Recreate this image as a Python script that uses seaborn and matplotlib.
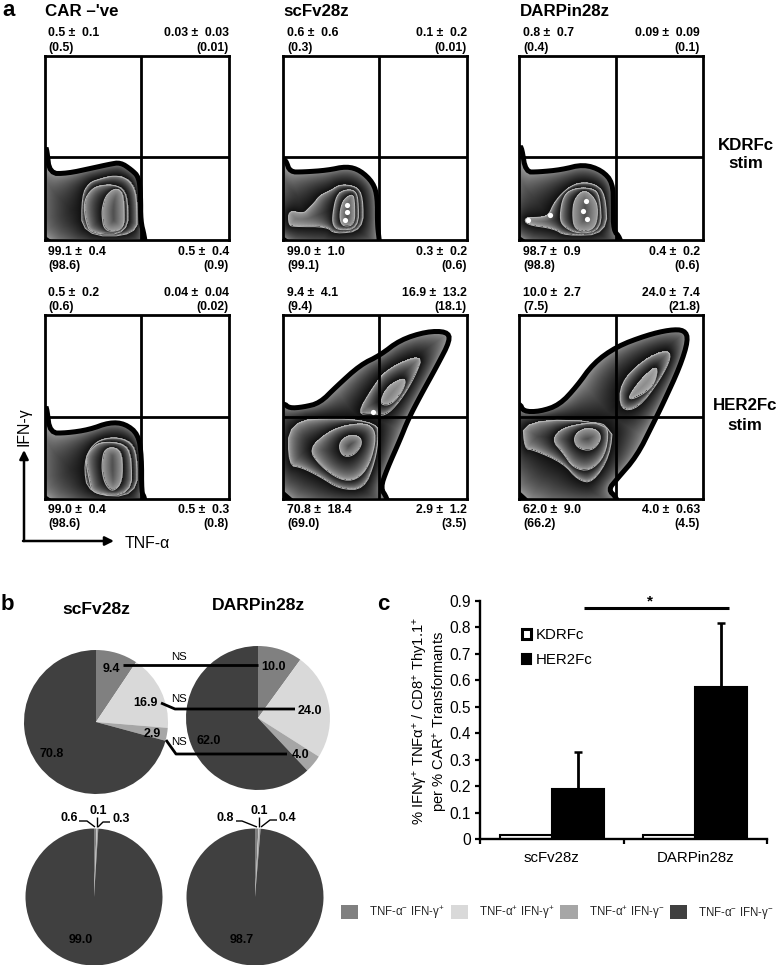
import numpy as np
import pandas as pd
import matplotlib
matplotlib.use("Agg")
import matplotlib.pyplot as plt
from matplotlib.path import Path
import seaborn as sns

sns.set_theme(style="white")
plt.rcParams['font.family'] = ['Liberation Sans', 'DejaVu Sans']
plt.rcParams['mathtext.fontset'] = 'custom'
plt.rcParams['mathtext.rm'] = 'Liberation Sans'
plt.rcParams['mathtext.default'] = 'rm'

W, H = 778, 965

# panel a: gated percentages, each row of a panel is TL, TR, BL, BR
KDR_STATS = [
    [("0.5 ±  0.1", "(0.5)"), ("0.03 ±  0.03", "(0.01)"), ("99.1 ±  0.4", "(98.6)"), ("0.5 ±  0.4", "(0.9)")],
    [("0.6 ±  0.6", "(0.3)"), ("0.1 ±  0.2", "(0.01)"), ("99.0 ±  1.0", "(99.1)"), ("0.3 ±  0.2", "(0.6)")],
    [("0.8 ±  0.7", "(0.4)"), ("0.09 ±  0.09", "(0.1)"), ("98.7 ±  0.9", "(98.8)"), ("0.4 ±  0.2", "(0.6)")],
]
HER2_STATS = [
    [("0.5 ±  0.2", "(0.6)"), ("0.04 ±  0.04", "(0.02)"), ("99.0 ±  0.4", "(98.6)"), ("0.5 ±  0.3", "(0.8)")],
    [("9.4 ±  4.1", "(9.4)"), ("16.9 ±  13.2", "(18.1)"), ("70.8 ±  18.4", "(69.0)"), ("2.9 ±  1.2", "(3.5)")],
    [("10.0 ±  2.7", "(7.5)"), ("24.0 ±  7.4", "(21.8)"), ("62.0 ±  9.0", "(66.2)"), ("4.0 ±  0.63", "(4.5)")],
]
COL_TITLES = ["CAR –'ve", "scFv28z", "DARPin28z"]

# contour outlines, TNF-a / IFN-g on a 0-100 display scale
NEG_KDR_L0 = [(1, 49), (2.5, 36), (12, 36), (26, 39), (35, 41), (41, 42), (47, 38), (51, 34), (52, 24), (52, 10), (54, 2), (55, -6), (-6, -6), (-6, 36), (0.5, 49)]
NEG_KDR_L1 = [(20, 24), (24, 31), (30, 33), (38, 35), (45, 33), (49, 27), (50, 18), (50, 2), (20, 2)]
NEG_KDR_L2 = [(21, 20), (24, 26), (28, 29), (36, 30), (42, 28), (45, 22), (45, 3), (25, 3), (22, 10)]
NEG_KDR_L3 = [(31, 17), (33, 24), (38, 28), (42, 26), (43, 18), (43, 6), (36, 4), (32, 6), (31, 12)]

SCFV_KDR_L0 = [(1.6, 43), (3.8, 36.8), (11, 36.8), (24, 37.7), (34.6, 39.9), (42, 37.7), (49, 31), (51.3, 23), (51.3, 8.5), (52, 2), (53, -6), (-6, -6), (-6, 36), (0.5, 43)]
SCFV_KDR_L1 = [(17, 20), (20, 24), (26.5, 27), (31, 30), (40, 29), (43.5, 23), (43.5, 5), (28, 3), (24, 7), (6, 7), (3, 8), (3, 16), (11, 14), (14, 17)]
SCFV_KDR_L2 = [(27, 14), (29, 24), (33, 27), (39, 27), (41, 22), (41, 6), (30, 5), (27, 8)]
SCFV_KDR_L3 = [(31, 16), (33, 22), (38, 25), (39, 20), (39, 8), (33, 7), (31, 10)]
SCFV_KDR_SPOTS = [(34.6, 15), (33.7, 10.4), (35, 19)]

DARP_KDR_L0 = [(1.5, 50), (3.6, 36.8), (10.5, 36.8), (23, 38), (35, 41), (45, 37.7), (51, 31), (51.3, 17.7), (51.3, 5), (55, 1), (56, -6), (-6, -6), (-6, 36), (0.5, 50)]
DARP_KDR_L1 = [(16, 13), (19, 20), (25, 27), (32, 31), (41, 30.5), (47, 25), (48, 3), (25, 2), (19, 6), (4, 8), (3, 12), (11, 12)]
DARP_KDR_L2 = [(22, 12), (24, 24), (30, 28), (40, 28), (44, 24), (45, 5), (32, 3), (24, 7)]
DARP_KDR_L3 = [(29, 14), (30, 22), (35, 27), (40, 24), (43, 18), (42, 7), (36, 4), (30, 6)]
DARP_KDR_SPOTS = [(36.4, 21), (34.6, 15.4), (36.8, 11.4), (5, 10.8), (17, 13.2)]

NEG_HER_L0 = [(1, 49), (2.7, 35.7), (11.7, 35.7), (24, 37.5), (35, 41.5), (43.5, 40.8), (50.7, 35), (52.5, 23), (52.5, 3), (54, 1), (55, -6), (-6, -6), (-6, 36), (0.5, 49)]
NEG_HER_L1 = [(20.9, 19.4), (26, 30), (35, 33.5), (45, 32), (50, 25), (50, 1), (23.5, 2)]
NEG_HER_L2 = [(22, 21), (24, 26), (30, 31), (43, 30), (47, 23), (47, 2), (26, 2), (24, 10)]
NEG_HER_L3 = [(31, 21), (32.5, 27), (38, 28), (42, 24), (42, 9), (37, 3.5), (33, 7), (31, 14)]

SCFV_HER_L0 = [(0.5, 52), (3.4, 49.2), (11, 49.8), (20, 52), (29, 61), (42, 72.8), (52.7, 78), (63.6, 86.4), (78, 91), (89, 91), (91, 86.4),
               (83.5, 71.9), (74.5, 55.6), (68, 43), (63.6, 32), (56.4, 15.7), (53, 5.7), (56.4, 0.5), (58, -6), (-6, -6), (-6, 50)]
SCFV_HER_L1_LOW = [(3, 42), (30, 44), (51, 41), (52, 34), (50, 20), (44, 5), (31, 5), (20, 12), (10, 17), (3, 18)]
SCFV_HER_L1_UP = [(40, 45.6), (49, 61), (57, 71), (76.3, 78.8), (71.8, 66.5), (63.6, 52.9), (55.4, 44.7), (49, 46.5)]
SCFV_HER_L2_LOW = [(14, 27), (24, 36), (34, 40), (47, 41), (51, 34), (47, 18), (40, 10), (31, 10), (20, 18)]
SCFV_HER_L2_UP = [(54.5, 57.4), (59, 62.8), (67, 66), (65.4, 59), (59, 51), (52.7, 51)]
SCFV_HER_L3 = [(30, 30), (35.5, 34.7), (42, 33.8), (43, 29), (38, 23), (32, 23)]
SCFV_HER_SPOTS = [(48.7, 47)]

DARP_HER_L0 = [(0.5, 52), (2.3, 47.4), (11.4, 47.4), (22, 51), (31.3, 61), (40.4, 73.7), (53, 82.8), (69.4, 89), (82, 92), (90, 91.8), (92, 86.4),
               (87.5, 71.9), (78.4, 52), (73, 41), (64, 23), (53, 10.3), (48.5, 4.8), (53, 0.5), (55, -6), (-6, -6), (-6, 50)]
DARP_HER_L1_LOW = [(2, 43), (51.2, 42), (49.4, 23), (40, 8.5), (32, 10), (24, 19.4), (7.7, 26.6), (3, 27)]
DARP_HER_L1_UP = [(54.9, 62.8), (67.5, 75.5), (80, 81), (83, 77.3), (76.6, 64.6), (64.8, 49), (55, 48)]
DARP_HER_L2_LOW = [(17.7, 32), (24, 39), (44, 42), (49, 37.5), (46.7, 23), (38.5, 14.8), (29.5, 16.6), (24, 24.8)]
DARP_HER_L2_UP = [(59.4, 55.6), (67.5, 66.5), (75.7, 72.8), (73.9, 62.8), (68.4, 57.4), (61, 53.8)]
DARP_HER_L3 = [(29.5, 33.8), (35, 38.4), (43, 37.5), (44.9, 32), (39.5, 25.7), (31.3, 27.5)]

# panel b
PIE_COLORS = ["#808080", "#d9d9d9", "#a6a6a6", "#404040"]
PIE_SCFV_HER = [9.4, 16.9, 2.9, 70.8]
PIE_DARP_HER = [10.0, 24.0, 4.0, 62.0]
PIE_SCFV_KDR = [0.6, 0.1, 0.3, 99.0]
PIE_DARP_KDR = [0.8, 0.1, 0.4, 98.7]
PIE_LEGEND = ["TNF-α$^{-}$ IFN-γ$^{+}$", "TNF-α$^{+}$ IFN-γ$^{+}$", "TNF-α$^{+}$ IFN-γ$^{-}$", "TNF-α$^{-}$ IFN-γ$^{-}$"]

# panel c
CONSTRUCTS = ["scFv28z", "DARPin28z"]
KDR_MEANS = [0.015, 0.015]
HER2_MEANS = [0.19, 0.575]
HER2_ERR = [0.14, 0.24]
Y_TICKS = [0, 0.1, 0.2, 0.3, 0.4, 0.5, 0.6, 0.7, 0.8, 0.9]
Y_TICK_LABELS = ["0", "0.1", "0.2", "0.3", "0.4", "0.5", "0.6", "0.7", "0.8", "0.9"]


def axes_px(fig, left, top, right, bottom, **kw):
    return fig.add_axes([left / W, 1 - bottom / H, (right - left) / W, (bottom - top) / H], **kw)


def smooth(poly, rounds=2):
    pts = np.array(poly, dtype=float)
    for _ in range(rounds):
        nxt = np.roll(pts, -1, axis=0)
        pts = np.column_stack([0.75 * pts + 0.25 * nxt, 0.25 * pts + 0.75 * nxt]).reshape(-1, 2)
    return pts


def dense(polys):
    out = []
    for p in polys:
        closed = np.vstack([p, p[:1]])
        seg = np.r_[0, np.cumsum(np.hypot(*np.diff(closed, axis=0).T))]
        s = np.arange(0, seg[-1], 0.8)
        out.append(np.column_stack([np.interp(s, seg, closed[:, 0]), np.interp(s, seg, closed[:, 1])]))
    return np.vstack(out)


def min_dist(grid, verts):
    res = np.full(len(grid), np.inf)
    for i in range(0, len(grid), 4000):
        chunk = grid[i:i + 4000]
        d = np.hypot(chunk[:, None, 0] - verts[None, :, 0], chunk[:, None, 1] - verts[None, :, 1])
        res[i:i + 4000] = d.min(axis=1)
    return res


def draw_flow(ax, levels, gate_x, gate_y, spots=()):
    levels = [[smooth(p) for p in lev] for lev in levels]
    n = 184
    xs = (np.arange(n) + 0.5) * 100 / n
    gx, gy = np.meshgrid(xs, xs)
    grid = np.column_stack([gx.ravel(), gy.ravel()])
    count = np.zeros(len(grid), dtype=int)
    for lev in levels:
        inside = np.zeros(len(grid), dtype=bool)
        for p in lev:
            inside |= Path(p).contains_points(grid)
        count += inside
    dists = [min_dist(grid, dense(lev)) for lev in levels]
    img = np.full(len(grid), np.nan)
    for c in range(1, len(levels) + 1):
        m = count == c
        if c < len(levels):
            t = dists[c - 1][m] / (dists[c - 1][m] + dists[c][m] + 1e-6)
            img[m] = 0.72 - 0.66 * t ** 0.55
        else:
            d = dists[c - 1][m]
            t = d / (d.max() + 1e-6)
            img[m] = 0.62 - 0.3 * t
    ax.imshow(np.ma.masked_invalid(img.reshape(n, n)), origin='lower', extent=(0, 100, 0, 100),
              cmap='gray', vmin=0, vmax=1, aspect='auto', interpolation='bilinear')
    for lev in levels[1:]:
        for p in lev:
            ax.fill(p[:, 0], p[:, 1], fill=False, ec='#b4b4b4', lw=0.7)
    for p in levels[0]:
        ax.fill(p[:, 0], p[:, 1], fill=False, ec='black', lw=3.6)
    if len(spots):
        sns.scatterplot(x=[s[0] for s in spots], y=[s[1] for s in spots], color='white', s=14, linewidth=0, ax=ax, legend=False)
    ax.axvline(gate_x, color='black', lw=2.0)
    ax.axhline(gate_y, color='black', lw=2.0)
    ax.set(xlim=(0, 100), ylim=(0, 100), xticks=[], yticks=[])
    for sp in ax.spines.values():
        sp.set_visible(True)
        sp.set_color('black')
        sp.set_linewidth(2.0)


fig = plt.figure(figsize=(W / 100, H / 100), dpi=100, facecolor='white')

# panel a
col_left = [45, 283, 519]
col_gate = [52.2, 52.2, 52.7]
row_tops = [56, 315]
row_gate = [44.8, 44.6]
flow_levels = [
    [[[NEG_KDR_L0], [NEG_KDR_L1], [NEG_KDR_L2], [NEG_KDR_L3]],
     [[SCFV_KDR_L0], [SCFV_KDR_L1], [SCFV_KDR_L2], [SCFV_KDR_L3]],
     [[DARP_KDR_L0], [DARP_KDR_L1], [DARP_KDR_L2], [DARP_KDR_L3]]],
    [[[NEG_HER_L0], [NEG_HER_L1], [NEG_HER_L2], [NEG_HER_L3]],
     [[SCFV_HER_L0], [SCFV_HER_L1_LOW, SCFV_HER_L1_UP], [SCFV_HER_L2_LOW, SCFV_HER_L2_UP], [SCFV_HER_L3]],
     [[DARP_HER_L0], [DARP_HER_L1_LOW, DARP_HER_L1_UP], [DARP_HER_L2_LOW, DARP_HER_L2_UP], [DARP_HER_L3]]],
]
flow_spots = [[(), SCFV_KDR_SPOTS, DARP_KDR_SPOTS], [(), SCFV_HER_SPOTS, ()]]
for r in range(2):
    for c in range(3):
        ax = axes_px(fig, col_left[c], row_tops[r], col_left[c] + 184, row_tops[r] + 183.5)
        draw_flow(ax, flow_levels[r][c], col_gate[c], row_gate[r], flow_spots[r][c])

# panel b pies
pie_specs = [(PIE_SCFV_HER, 96, 722, 72), (PIE_DARP_HER, 258, 718, 72),
             (PIE_SCFV_KDR, 94, 897, 68.5), (PIE_DARP_KDR, 255, 897, 68.5)]
wedges = None
for vals, cx, cy, rad in pie_specs:
    ax = axes_px(fig, cx - rad, cy - rad, cx + rad, cy + rad)
    wedges, _ = ax.pie(vals, colors=PIE_COLORS, startangle=90, counterclock=False, radius=1, wedgeprops=dict(lw=0))
    ax.set(xlim=(-1, 1), ylim=(-1, 1))

fig.legend(wedges, PIE_LEGEND, loc='center left', bbox_to_anchor=(341 / W, 1 - 912.5 / H), ncol=4, frameon=False,
           fontsize=8.3, handlelength=1.5, handleheight=1.5, handletextpad=0.95, columnspacing=0.5, borderpad=0, borderaxespad=0)

# panel c
bar_df = pd.DataFrame({
    'construct': CONSTRUCTS * 2,
    'stim': ['KDRFc'] * 2 + ['HER2Fc'] * 2,
    'value': KDR_MEANS + HER2_MEANS,
})
ax = axes_px(fig, 480, 601, 767, 839)
sns.barplot(data=bar_df, x='construct', y='value', hue='stim', order=CONSTRUCTS, hue_order=['KDRFc', 'HER2Fc'],
            palette={'KDRFc': 'white', 'HER2Fc': 'black'}, edgecolor='black', linewidth=1.5, width=0.724, gap=0,
            errorbar=None, ax=ax)
her_x = [b.get_x() + b.get_width() / 2 for b in ax.containers[1]]
ax.errorbar(her_x, HER2_MEANS, yerr=[[0, 0], HER2_ERR], fmt='none', ecolor='black', elinewidth=2.0, capsize=2.6, capthick=1.8, zorder=1)
ax.set_xlim(-0.5, 1.5)
ax.set_ylim(0, 0.9)
ax.set_yticks(Y_TICKS, Y_TICK_LABELS, fontsize=11.2, color='black')
ax.set_xticks(range(len(CONSTRUCTS)), CONSTRUCTS, fontsize=10.8, color='black')
ax.set_xticks([-0.5, 0.5, 1.5], minor=True)
ax.tick_params(axis='x', which='major', length=0, pad=9)
ax.tick_params(axis='x', which='minor', bottom=True, length=3.5, width=1.6, color='black')
ax.tick_params(axis='y', left=True, length=3.5, width=1.6, color='black', pad=3)
ax.set_xlabel('')
ax.set_ylabel("% IFNγ$^{+}$ TNFα$^{+}$ / CD8$^{+}$ Thy1.1$^{+}$\nper % CAR$^{+}$ Transformants", fontsize=10.6, color='black', linespacing=1.05)
ax.yaxis.set_label_coords(-0.105, 0.495)
sns.despine(ax=ax)
for side in ('left', 'bottom'):
    ax.spines[side].set_color('black')
    ax.spines[side].set_linewidth(1.7)
handles, labels = ax.get_legend_handles_labels()
leg = ax.legend(handles, labels, loc='upper left', bbox_to_anchor=(0.146, 0.885), frameon=False, fontsize=10.8, labelcolor='black',
                handlelength=0.6, handleheight=0.6, handletextpad=0.3, labelspacing=0.72, borderpad=0, borderaxespad=0)
leg.legend_handles[0].set_linewidth(2.2)

# overlay for free text and annotation lines, in image pixels
ov = fig.add_axes([0, 0, 1, 1], zorder=10)
ov.set(xlim=(0, W), ylim=(H, 0))
ov.axis('off')


def bold(x, y, s, size=8.8, ha='left', **kw):
    ov.text(x, y, s, fontsize=size, fontweight='bold', ha=ha, va='center', color='black', **kw)


bold(2, 10, 'a', 16)
bold(1, 605, 'b', 16)
bold(377, 605, 'c', 16)

title_x = [45, 283, 520]
label_left = [48, 287, 523]
label_right = [229, 467, 700]
for c in range(3):
    bold(title_x[c], 11, COL_TITLES[c], 12.2)
    for stats, rows in ((KDR_STATS[c], (33, 48, 252, 266)), (HER2_STATS[c], (293, 307, 510, 524))):
        for k, (mean_txt, med_txt) in enumerate(stats):
            x = label_right[c] if k % 2 else label_left[c]
            ha = 'right' if k % 2 else 'left'
            y1, y2 = rows[:2] if k < 2 else rows[2:]
            bold(x, y1, mean_txt, ha=ha)
            bold(x, y2, med_txt, ha=ha)

bold(746, 145, 'KDRFc', 12.2, ha='center')
bold(746, 164, 'stim', 12.2, ha='center')
bold(745, 405, 'HER2Fc', 12.2, ha='center')
bold(745, 425, 'stim', 12.2, ha='center')

arrow = dict(arrowstyle='-|>', lw=1.8, color='black', shrinkA=0, shrinkB=0, mutation_scale=13)
ov.annotate('', xy=(24, 450), xytext=(24, 541), arrowprops=arrow)
ov.annotate('', xy=(114, 541), xytext=(23, 541), arrowprops=arrow)
ov.text(24, 427, 'IFN-γ', rotation=90, fontsize=11.4, ha='center', va='center', color='black')
ov.text(125, 543, 'TNF-α', fontsize=11.4, ha='left', va='center', color='black')

bold(96, 609, 'scFv28z', 12.6, ha='center')
bold(258, 605, 'DARPin28z', 12.6, ha='center')

pie_labels = [(111, 669, '9.4'), (274, 667, '10.0'), (145, 703, '16.9'), (310, 711, '24.0'), (152, 734, '2.9'), (301, 755, '4.0'),
              (52, 754, '70.8'), (209, 741, '62.0'), (69, 818, '0.6'), (98, 811, '0.1'), (121, 819, '0.3'), (225, 818, '0.8'),
              (259, 811, '0.1'), (287, 818, '0.4'), (81, 940, '99.0'), (242, 940, '98.7')]
for x, y, s in pie_labels:
    bold(x, y, s, 9, ha='center')
for y in (657, 699, 742):
    ov.text(179, y, 'NS', fontsize=8.2, ha='center', va='center', color='black')

leaders = [([123, 258], [665, 665], 2.0), ([161, 175, 295], [703, 709, 709], 2.0), ([166, 176, 287], [740, 754, 754], 2.0),
           ([79, 87, 95], [821, 821, 827], 1.0), ([97, 97], [817, 827], 1.0), ([110, 103, 98], [822, 822, 827], 1.0),
           ([236, 242, 257], [821, 821, 827], 1.0), ([259, 259], [817, 827], 1.0), ([277, 270, 261], [820, 820, 827], 1.0)]
for xs, ys, lw in leaders:
    ov.plot(xs, ys, color='black', lw=lw, solid_capstyle='butt')

ov.plot([584, 729], [608, 608], color='black', lw=2.2, solid_capstyle='butt')
bold(650, 601, '*', 11, ha='center')
ov.set(xlim=(0, W), ylim=(H, 0))

fig.savefig('out.png', dpi=100)
